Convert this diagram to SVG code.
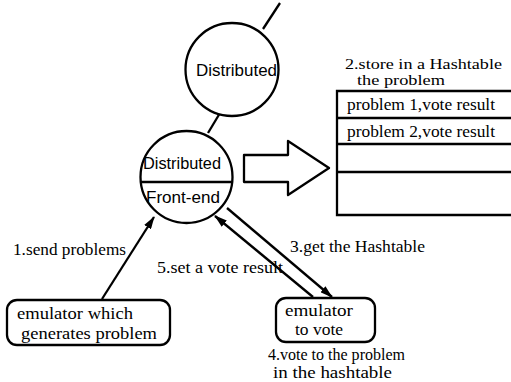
<svg xmlns="http://www.w3.org/2000/svg" width="511" height="382" viewBox="0 0 511 382">
  <style>
    .shape { fill: #fff; stroke: #000; stroke-width: 2.3; }
    .line { fill: none; stroke: #000; stroke-width: 2.3; }
    .sans { font-family: "Liberation Sans", Arial, sans-serif; font-size: 16.5px; fill: #000; }
    .serif { font-family: "Liberation Serif", "Times New Roman", serif; font-size: 16px; fill: #000; }
    .caption { font-size: 15px; }
  </style>
  <defs>
    <marker id="head" viewBox="0 0 13 8" refX="12" refY="4" markerWidth="13" markerHeight="8" markerUnits="userSpaceOnUse" orient="auto">
      <path d="M0,0 L13,4 L0,8 Z" fill="#000"/>
    </marker>
  </defs>

  <!-- connectors -->
  <g id="connectors">
    <line class="line" x1="280" y1="3" x2="263" y2="29"/>
    <line class="line" x1="220" y1="113" x2="208" y2="133"/>
    <line class="line" x1="102" y1="299" x2="154" y2="217" marker-end="url(#head)"/>
    <line class="line" x1="227" y1="208" x2="332" y2="297" marker-end="url(#head)"/>
    <line class="line" x1="313" y1="297" x2="215" y2="216" marker-end="url(#head)"/>
  </g>

  <!-- upper distributed node -->
  <g id="distributed">
    <circle class="shape" cx="232" cy="69.5" r="46.5"/>
    <text class="sans" x="196" y="76" textLength="81" lengthAdjust="spacingAndGlyphs">Distributed</text>
  </g>

  <!-- distributed front-end node -->
  <g id="front-end">
    <circle class="shape" cx="186.5" cy="177" r="46"/>
    <line class="line" x1="141" y1="182" x2="232" y2="182" stroke-width="2.8"/>
    <text class="sans" x="143" y="169" textLength="78" lengthAdjust="spacingAndGlyphs">Distributed</text>
    <text class="sans" x="146" y="203" textLength="74" lengthAdjust="spacingAndGlyphs">Front-end</text>
  </g>

  <!-- hollow arrow into the table -->
  <g id="store-arrow">
    <path class="shape" stroke-linejoin="round" d="M244,155 L288,155 L288,141 L329,168 L288,195 L288,182 L244,182 Z"/>
  </g>

  <!-- hashtable -->
  <g id="hashtable">
    <text class="serif caption" x="345" y="69" textLength="157" lengthAdjust="spacingAndGlyphs">2.store in a Hashtable</text>
    <text class="serif caption" x="357" y="85" textLength="88" lengthAdjust="spacingAndGlyphs">the problem</text>
    <path class="line" d="M511,91 L337,91 L337,215 L511,215"/>
    <line class="line" x1="337" y1="118" x2="511" y2="118"/>
    <line class="line" x1="337" y1="144" x2="511" y2="144"/>
    <line class="line" x1="337" y1="172" x2="511" y2="172"/>
    <text class="serif" x="347" y="110" textLength="148" lengthAdjust="spacingAndGlyphs">problem 1,vote result</text>
    <text class="serif" x="347" y="137" textLength="148" lengthAdjust="spacingAndGlyphs">problem 2,vote result</text>
  </g>

  <!-- problem generator -->
  <g id="generator">
    <rect class="shape" x="7" y="300" width="163" height="45" rx="10"/>
    <text class="serif" x="17" y="319" textLength="116" lengthAdjust="spacingAndGlyphs">emulator which</text>
    <text class="serif" x="21" y="339" textLength="136" lengthAdjust="spacingAndGlyphs">generates problem</text>
  </g>

  <!-- voter -->
  <g id="voter">
    <rect class="shape" x="276" y="298" width="99" height="44" rx="10"/>
    <text class="serif" x="285" y="316" textLength="68" lengthAdjust="spacingAndGlyphs">emulator</text>
    <text class="serif" x="295" y="335" textLength="48" lengthAdjust="spacingAndGlyphs">to vote</text>
  </g>

  <!-- connector labels -->
  <g id="labels">
    <text class="serif" x="13" y="255" textLength="113" lengthAdjust="spacingAndGlyphs">1.send problems</text>
    <text class="serif" x="157" y="273" textLength="126" lengthAdjust="spacingAndGlyphs">5.set a vote result</text>
    <text class="serif" x="290" y="252" textLength="135" lengthAdjust="spacingAndGlyphs">3.get the Hashtable</text>
    <text class="serif" x="268" y="360" textLength="137" lengthAdjust="spacingAndGlyphs">4.vote to the problem</text>
    <text class="serif" x="273" y="378" textLength="119" lengthAdjust="spacingAndGlyphs">in the hashtable</text>
  </g>
</svg>
